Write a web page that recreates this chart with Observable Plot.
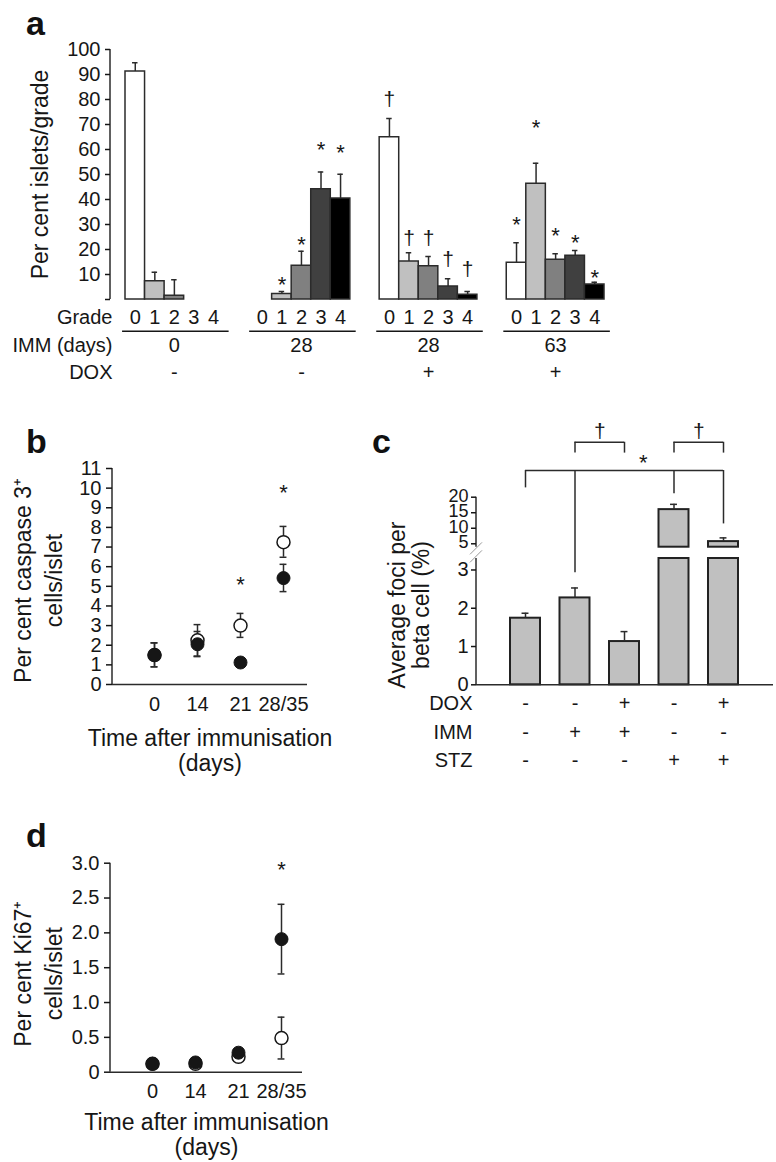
<!DOCTYPE html>
<html>
<head>
<meta charset="utf-8">
<script src="https://cdn.jsdelivr.net/npm/d3@7"></script>
<script src="https://cdn.jsdelivr.net/npm/@observablehq/plot@0.6"></script>
<style>
  body { margin: 0; background: #fff; }
  #fig { position: relative; width: 776px; height: 1162px; overflow: hidden; background: #fff;
         font-family: "Liberation Sans", Arial, Helvetica, sans-serif; }
  .letter { position: absolute; font-weight: bold; font-size: 34px; line-height: 1; color: #111; }
</style>
</head>
<body>
<div id="fig">
  <div class="letter" style="left:26px; top:6px;">a</div>
  <div class="letter" style="left:26px; top:424px;">b</div>
  <div class="letter" style="left:372px; top:424px;">c</div>
  <div class="letter" style="left:26px; top:818px;">d</div>
</div>
<script>
// ---------------- DATA ----------------
// Panel a: per cent islets per insulitis grade
const gradeLabels = ["0", "1", "2", "3", "4"];
const gradeFills = ["#ffffff", "#c0c0c0", "#808080", "#404040", "#000000"];
const groupIMM = ["0", "28", "28", "63"];
const groupDOX = ["-", "-", "+", "+"];
const pctG1 = [91.2, 7.3, 1.5, 0, 0];
const errG1 = [94.7, 10.9, 7.9, null, null];
const pctG2 = [0, 2.2, 13.5, 44.1, 40.4];
const errG2 = [null, 3.2, 19.3, 51.0, 50.1];
const pctG3 = [64.9, 15.2, 13.3, 5.2, 1.9];
const errG3 = [72.4, 18.7, 17.2, 8.3, 3.2];
const pctG4 = [14.7, 46.3, 15.9, 17.5, 6.0];
const errG4 = [22.7, 54.5, 18.3, 19.6, 6.9];
const sigG1 = [null, null, null, null, null];
const sigYG1 = [null, null, null, null, null];
const sigG2 = [null, "*", "*", "*", "*"];
const sigYG2 = [null, 8, 24, 62, 60.8];
const sigG3 = ["†", "†", "†", "†", "†"];
const sigYG3 = [80, 24.4, 24.4, 16, 12];
const sigG4 = ["*", "*", "*", "*", "*"];
const sigYG4 = [32, 70.5, 27.3, 24.5, 10.7];

// Panels b and d: time after immunisation
const days = ["0", "14", "21", "28/35"];
const caspOpen = [1.5, 2.25, 3.0, 7.25];
const caspOpenLo = [0.9, 1.45, 2.4, 6.48];
const caspOpenHi = [2.12, 3.05, 3.62, 8.05];
const caspFill = [1.5, 2.05, 1.12, 5.42];
const caspFillLo = [0.9, 1.42, 0.95, 4.73];
const caspFillHi = [2.12, 2.7, 1.3, 6.12];
const caspSig = [null, null, "*", "*"];
const caspSigY = [null, null, 5.3, 10];

const kiOpen = [0.12, 0.12, 0.22, 0.49];
const kiOpenLo = [0.10, 0.10, 0.20, 0.19];
const kiOpenHi = [0.14, 0.14, 0.24, 0.79];
const kiFill = [0.12, 0.14, 0.28, 1.91];
const kiFillLo = [0.10, 0.12, 0.26, 1.41];
const kiFillHi = [0.14, 0.16, 0.30, 2.41];
const kiSig = [null, null, null, "*"];
const kiSigY = [null, null, null, 2.97];

// Panel c: average foci per beta cell (%)
const fociVal = [1.74, 2.27, 1.13, 16.0, 5.7];
const fociErr = [1.87, 2.53, 1.39, 17.7, 6.9];
const condDOX = ["-", "-", "+", "-", "+"];
const condIMM = ["-", "+", "+", "-", "-"];
const condSTZ = ["-", "-", "-", "+", "+"];
const fociTicksLower = [0, 1, 2, 3];
const fociTicksUpper = [5, 10, 15, 20];
// significance brackets (data units of the broken axis)
const bracketSpans = [[1, 2, 37.7], [3, 4, 37.7], [0, 4, 28.6]];
const bracketLegs = [[1, 37.7, 34.2], [2, 37.7, 34.2], [3, 37.7, 34.2], [4, 37.7, 34.2],
                     [0, 28.6, 23.0], [1, 28.6, 2.93], [3, 28.6, 21.1], [4, 28.6, 11.4]];
const bracketSig = [[1.5, 41.2, "†"], [3.5, 41.2, "†"], [2.38, 32.5, "*"]];

// ---------------- HELPERS ----------------
const FONT = '"Liberation Sans", Arial, Helvetica, sans-serif';
const INK = "#161616";
const LINE = "#2b2b2b";
const NS = "http://www.w3.org/2000/svg";
const W = 776;
const TICK_FS = 20;
const TITLE_FS = 23;
const baseStyle = {fontFamily: FONT, fontSize: "20px", color: INK, background: "transparent", overflow: "visible"};
const fig = document.getElementById("fig");

function mount(svg, top) {
  svg.style.position = "absolute";
  svg.style.left = "0px";
  svg.style.top = top + "px";
  fig.appendChild(svg);
}

// vertical axis line(s) drawn at the frame's left edge through the y scale
function yAxisLine(segments, breakAt) {
  return (index, scales, values, dimensions) => {
    const g = document.createElementNS(NS, "g");
    const x = dimensions.marginLeft;
    const add = (x1, y1, x2, y2, stroke, w) => {
      const l = document.createElementNS(NS, "line");
      l.setAttribute("x1", x1); l.setAttribute("y1", y1);
      l.setAttribute("x2", x2); l.setAttribute("y2", y2);
      l.setAttribute("stroke", stroke); l.setAttribute("stroke-width", w);
      g.appendChild(l);
    };
    for (const [a, b] of segments) add(x, scales.y(a), x, scales.y(b), LINE, 1.5);
    if (breakAt != null) {
      const yb = scales.y(breakAt);
      for (const k of [-4, 4]) add(x - 6, yb + k + 6, x + 6, yb + k - 6, "#9a9a9a", 1);
    }
    return g;
  };
}

// text placed below the frame (tables / titles)
function below(data, opts) {
  return Plot.text(data, {frameAnchor: "bottom", lineAnchor: "middle", fontSize: TICK_FS, fill: INK, ...opts});
}
function rowLabel(label, dx, dy) {
  return Plot.text([label], {text: d => d, frameAnchor: "bottom-left", textAnchor: "end", lineAnchor: "middle",
    dx, dy, fontSize: TICK_FS, fill: INK});
}
function yTitle(label, dx, dy, lineHeight) {
  return Plot.text([label], {text: d => d, frameAnchor: "left", textAnchor: "middle", lineAnchor: "middle",
    dx, dy, rotate: -90, fontSize: TITLE_FS, lineHeight, fill: INK});
}

// ---------------- PANEL a ----------------
const STRIDE = 6.5; // bar slots between group starts
const pctA = [pctG1, pctG2, pctG3, pctG4];
const errA = [errG1, errG2, errG3, errG4];
const sigA = [sigG1, sigG2, sigG3, sigG4];
const sigYA = [sigYG1, sigYG2, sigYG3, sigYG4];
const barsA = [];
pctA.forEach((vals, g) => vals.forEach((v, k) => barsA.push({
  g, k, grade: gradeLabels[k], pos: g * STRIDE + k + 0.5,
  value: v, err: errA[g][k], sig: sigA[g][k], sigY: sigYA[g][k]
})));
const groupsA = groupIMM.map((imm, g) => ({g, imm, dox: groupDOX[g], mid: g * STRIDE + 2.5,
  start: g * STRIDE, end: g * STRIDE + 5}));
const errBarsA = barsA.filter(d => d.err != null);

const plotA = Plot.plot({
  width: W, height: 400, marginTop: 49, marginBottom: 101, marginLeft: 110, marginRight: 172,
  style: baseStyle,
  x: {type: "linear", domain: [0, 3 * STRIDE + 5], range: [125, 604], axis: null},
  y: {domain: [0, 100]},
  color: {domain: gradeLabels, range: gradeFills},
  marks: [
    yAxisLine([[0, 100]]),
    Plot.axisY({ticks: d3.range(0, 101, 10), tickFormat: d => d === 0 ? "" : d, tickSize: 5, tickPadding: 5,
      fontSize: TICK_FS, label: null, strokeWidth: 1.5}),
    yTitle("Per cent islets/grade", -70, 0, 1),
    Plot.rect(barsA.filter(d => d.value > 0), {x1: d => d.pos - 0.5, x2: d => d.pos + 0.5, y1: 0, y2: "value",
      fill: "grade", stroke: LINE, strokeWidth: 1.5}),
    Plot.ruleX(errBarsA, {x: "pos", y1: "value", y2: "err", stroke: LINE, strokeWidth: 1.5}),
    Plot.ruleY(errBarsA, {y: "err", x1: d => d.pos - 0.14, x2: d => d.pos + 0.14, stroke: LINE, strokeWidth: 1.5}),
    Plot.text(barsA.filter(d => d.sig === "*"), {x: "pos", y: "sigY", text: "sig", fontSize: 22, dy: 5, fill: INK}),
    Plot.text(barsA.filter(d => d.sig === "†"), {x: "pos", y: "sigY", text: "sig", fontSize: 21, fill: INK}),
    // table beneath
    below(barsA, {x: "pos", dy: 18, text: "grade"}),
    Plot.ruleY(groupsA, {y: () => 0, x1: d => d.start - 0.15, x2: d => d.end + 0.3, dy: 31.7, stroke: INK, strokeWidth: 1.5}),
    below(groupsA, {x: "mid", dy: 46, text: "imm"}),
    below(groupsA, {x: "mid", dy: 73, text: "dox"}),
    rowLabel("Grade", 2, 18),
    rowLabel("IMM (days)", 2, 46),
    rowLabel("DOX", 2, 73)
  ]
});
mount(plotA, 0);

// ---------------- PANELS b & d ----------------
function timePlot(o) {
  const rows = (m, lo, hi) => m.map((v, i) => ({i, v, lo: lo[i], hi: hi[i]}));
  const open = rows(o.openM, o.openLo, o.openHi);
  const filled = rows(o.fillM, o.fillLo, o.fillHi);
  const all = open.concat(filled);
  const sigs = o.sig.map((s, i) => ({i, s, y: o.sigY[i]})).filter(d => d.s);
  const cap = 0.08;
  return Plot.plot({
    width: W, height: o.height, marginTop: o.marginTop, marginBottom: o.marginBottom,
    marginLeft: o.marginLeft, marginRight: o.marginRight,
    style: baseStyle,
    x: {type: "linear", domain: [0, 3], range: o.xRange},
    y: {domain: o.yDomain},
    marks: [
      yAxisLine([o.yDomain]),
      Plot.ruleY([0], {stroke: LINE, strokeWidth: 1.5}),
      Plot.axisY({ticks: o.yTicks, tickFormat: o.yFormat, tickSize: 6, tickPadding: 5, fontSize: TICK_FS, label: null, strokeWidth: 1.5}),
      Plot.axisX({ticks: [0, 1, 2, 3], tickFormat: i => days[i], tickSize: 0, tickPadding: 12, fontSize: TICK_FS, label: null}),
      Plot.ruleX(all, {x: "i", y1: "lo", y2: "hi", stroke: LINE, strokeWidth: 1.5}),
      Plot.ruleY(all, {y: "lo", x1: d => d.i - cap, x2: d => d.i + cap, stroke: LINE, strokeWidth: 1.5}),
      Plot.ruleY(all, {y: "hi", x1: d => d.i - cap, x2: d => d.i + cap, stroke: LINE, strokeWidth: 1.5}),
      Plot.dot(open, {x: "i", y: "v", r: 6.5, fill: "white", stroke: INK, strokeWidth: 1.5}),
      Plot.dot(filled, {x: "i", y: "v", r: 6.5, fill: INK, stroke: INK, strokeWidth: 1}),
      Plot.text(sigs, {x: "i", y: "y", text: "s", fontSize: 22, dy: 5, fill: INK}),
      yTitle(o.yTitle, o.yTitleDx, o.yTitleDy, 1.35),
      below(["Time after immunisation\n(days)"], {text: d => d, dy: o.xTitleDy, fontSize: TITLE_FS, lineHeight: 1.1})
    ]
  });
}

const plotB = timePlot({
  openM: caspOpen, openLo: caspOpenLo, openHi: caspOpenHi,
  fillM: caspFill, fillLo: caspFillLo, fillHi: caspFillHi,
  sig: caspSig, sigY: caspSigY,
  height: 400, marginTop: 88, marginBottom: 96, marginLeft: 112, marginRight: W - 307,
  xRange: [154, 283], yDomain: [0, 11], yTicks: d3.range(0, 12), yFormat: d => d,
  yTitle: "Per cent caspase 3\u207A\ncells/islet", yTitleDx: -75.5, yTitleDy: 4, xTitleDy: 66
});
mount(plotB, 380);

const plotD = timePlot({
  openM: kiOpen, openLo: kiOpenLo, openHi: kiOpenHi,
  fillM: kiFill, fillLo: kiFillLo, fillHi: kiFillHi,
  sig: kiSig, sigY: kiSigY,
  height: 362, marginTop: 62.7, marginBottom: 90.3, marginLeft: 110, marginRight: W - 302,
  xRange: [152, 281], yDomain: [0, 3], yTicks: d3.range(0, 3.01, 0.5), yFormat: d => d === 0 ? "0" : d.toFixed(1),
  yTitle: "Per cent Ki67\u207A\ncells/islet", yTitleDx: -73.5, yTitleDy: 6, xTitleDy: 62.5
});
mount(plotD, 800);

// ---------------- PANEL c ----------------
const LOWER_MAX = 3.3, UPPER_MIN = 3.9;
const condsC = fociVal.map((v, i) => ({i, v, err: fociErr[i], dox: condDOX[i], imm: condIMM[i], stz: condSTZ[i]}));
const spans = bracketSpans.map(([a, b, y]) => ({a, b, y}));
const legs = bracketLegs.map(([x, y1, y2]) => ({x, y1, y2}));
const sigC = bracketSig.map(([x, y, s]) => ({x, y, s}));
const HALF = 0.303;
const plotC = Plot.plot({
  width: W, height: 400, marginTop: 116.7, marginBottom: 95.7, marginLeft: 476, marginRight: 3,
  style: baseStyle,
  x: {type: "linear", domain: [0, 4], range: [525, 723], axis: null},
  y: {type: "linear", domain: [0, LOWER_MAX, UPPER_MIN, 20], range: [304.3, 178, 166.7, 116.7]},
  marks: [
    yAxisLine([[0, LOWER_MAX], [UPPER_MIN, 20]], (LOWER_MAX + UPPER_MIN) / 2),
    Plot.axisY({ticks: fociTicksLower, tickSize: 5, tickPadding: 3, fontSize: TICK_FS, label: null, strokeWidth: 1.5}),
    Plot.axisY({ticks: fociTicksUpper, tickSize: 5, tickPadding: 3, fontSize: 18, lineHeight: 0.8, label: null, strokeWidth: 1.5}),
    Plot.rect(condsC, {x1: d => d.i - HALF, x2: d => d.i + HALF, y1: 0, y2: d => Math.min(d.v, LOWER_MAX),
      fill: "#c0c0c0", stroke: "#222", strokeWidth: 2}),
    Plot.rect(condsC.filter(d => d.v > LOWER_MAX), {x1: d => d.i - HALF, x2: d => d.i + HALF, y1: UPPER_MIN, y2: "v",
      fill: "#c0c0c0", stroke: "#222", strokeWidth: 2}),
    Plot.ruleY([0], {stroke: LINE, strokeWidth: 1.5}),
    Plot.ruleX(condsC, {x: "i", y1: "v", y2: "err", stroke: LINE, strokeWidth: 1.5}),
    Plot.ruleY(condsC, {y: "err", x1: d => d.i - 0.07, x2: d => d.i + 0.07, stroke: LINE, strokeWidth: 1.5}),
    Plot.ruleY(spans, {y: "y", x1: "a", x2: "b", stroke: LINE, strokeWidth: 1.5}),
    Plot.ruleX(legs, {x: "x", y1: "y1", y2: "y2", stroke: LINE, strokeWidth: 1.5}),
    Plot.text(sigC.filter(d => d.s === "†"), {x: "x", y: "y", text: "s", fontSize: 21, fill: INK}),
    Plot.text(sigC.filter(d => d.s === "*"), {x: "x", y: "y", text: "s", fontSize: 22, dy: 5, fill: INK}),
    yTitle("Average foci per\nbeta cell (%)", -67, 14, 1.05),
    // condition table
    below(condsC, {x: "i", dy: 18.7, text: "dox"}),
    below(condsC, {x: "i", dy: 47.7, text: "imm"}),
    below(condsC, {x: "i", dy: 75.7, text: "stz"}),
    rowLabel("DOX", -4, 18.7),
    rowLabel("IMM", -4, 47.7),
    rowLabel("STZ", -4, 75.7)
  ]
});
mount(plotC, 380);
</script>
</body>
</html>
